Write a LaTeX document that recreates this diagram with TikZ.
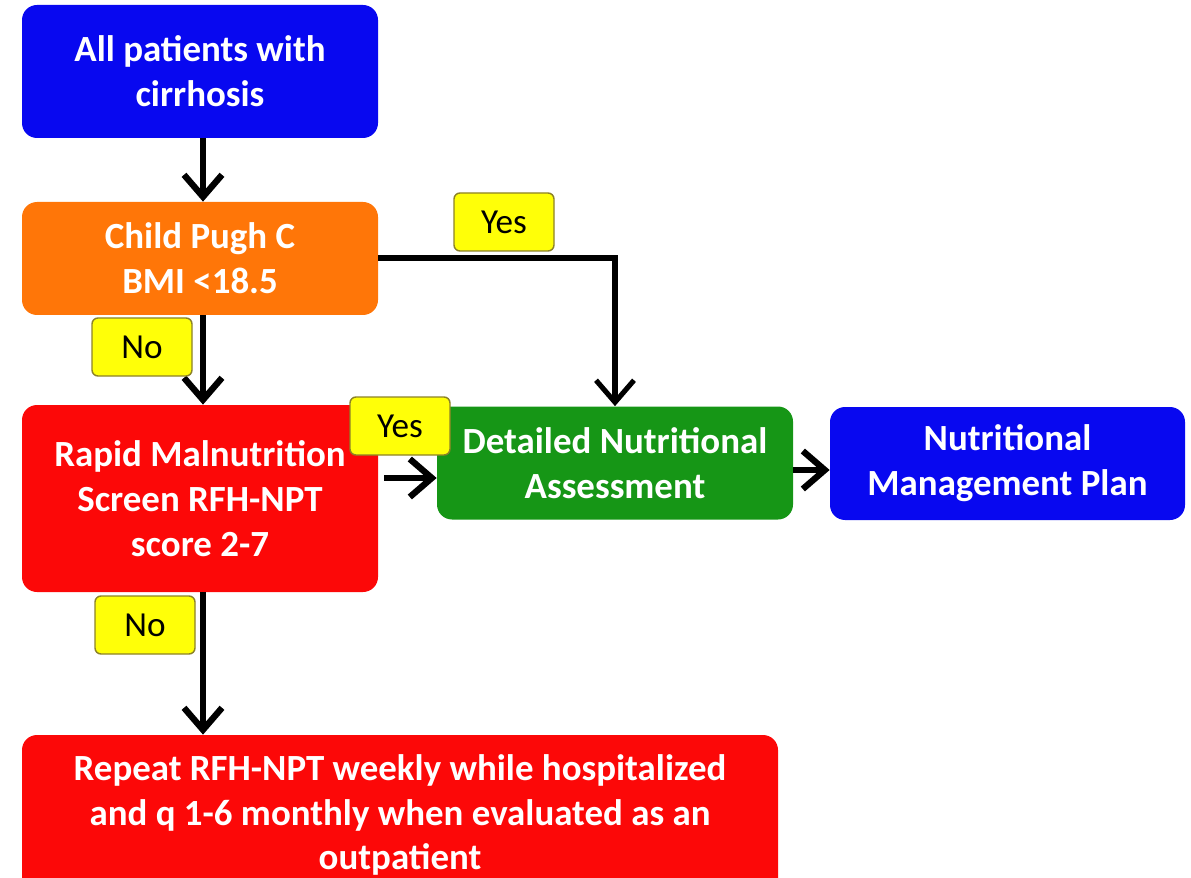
\documentclass[tikz,border=0pt]{standalone}
\usepackage{fontspec}
\setmainfont{Carlito}
\usetikzlibrary{arrows.meta}

\definecolor{boxblue}{RGB}{8,8,240}
\definecolor{boxorange}{RGB}{255,118,8}
\definecolor{boxred}{RGB}{252,8,8}
\definecolor{boxgreen}{RGB}{22,150,22}
\definecolor{lblyellow}{RGB}{255,255,8}
\definecolor{lbledge}{RGB}{140,130,40}

\tikzset{
  box/.style={rounded corners=0.3cm, text=white, align=center, minimum width=7.12cm,
    minimum height=2.26cm, font=\fontsize{21}{25.5}\selectfont\bfseries},
  lbl/.style={draw=lbledge, fill=lblyellow, rounded corners=0.12cm, line width=0.8pt,
    minimum width=2.0cm, minimum height=1.16cm, font=\fontsize{20}{24}\selectfont},
  arr/.style={line width=3.6pt, -{Straight Barb[length=0.44cm, width=0.76cm]}}
}

\begin{document}
\begin{tikzpicture}
    \useasboundingbox (0,0) rectangle (23.82,-17.56);

    \node[box, fill=boxblue, minimum height=2.66cm] (all) at (4.0,-1.43) {All patients with\\cirrhosis};
    \node[box, fill=boxorange] (child) at (4.0,-5.17) {Child Pugh C\\BMI <18.5};
    \node[box, fill=boxred, minimum height=3.74cm] (rapid) at (4.0,-9.97) {Rapid Malnutrition\\Screen RFH-NPT\\score 2-7};
    \node[box, fill=boxgreen] (detail) at (12.3,-9.26) {Detailed Nutritional\\Assessment};
    \node[box, fill=boxblue, minimum width=7.1cm] (plan) at (20.15,-9.27) {Nutritional\\Management Plan};
    \node[box, fill=boxred, minimum width=15.12cm, minimum height=3.2cm] (repeat) at (8.0,-16.3)
        {Repeat RFH-NPT weekly while hospitalized\\and q 1-6 monthly when evaluated as an\\outpatient};

    \draw[arr] (all.south -| 4.06,0) -- (child.north -| 4.06,0);
    \draw[arr, line width=2.9pt] (child.east |- 0,-5.16) -| (detail.north);
    \draw[arr] (child.south -| 4.06,0) -- (rapid.north -| 4.06,0);
    \draw[arr] (rapid.east |- 0,-9.56) ++(0.12,0) -- (detail.west |- 0,-9.56);
    \draw[arr] (detail.east |- 0,-9.4) -- (plan.west |- 0,-9.4);
    \draw[arr] (rapid.south -| 4.06,0) -- (repeat.north -| 4.06,0);

    \node[lbl] (yes1) at (10.08,-4.44) {Yes};
    \node[lbl] (no1) at (2.84,-6.94) {No};
    \node[lbl] (yes2) at (8.0,-8.52) {Yes};
    \node[lbl] (no2) at (2.9,-12.5) {No};
\end{tikzpicture}
\end{document}
